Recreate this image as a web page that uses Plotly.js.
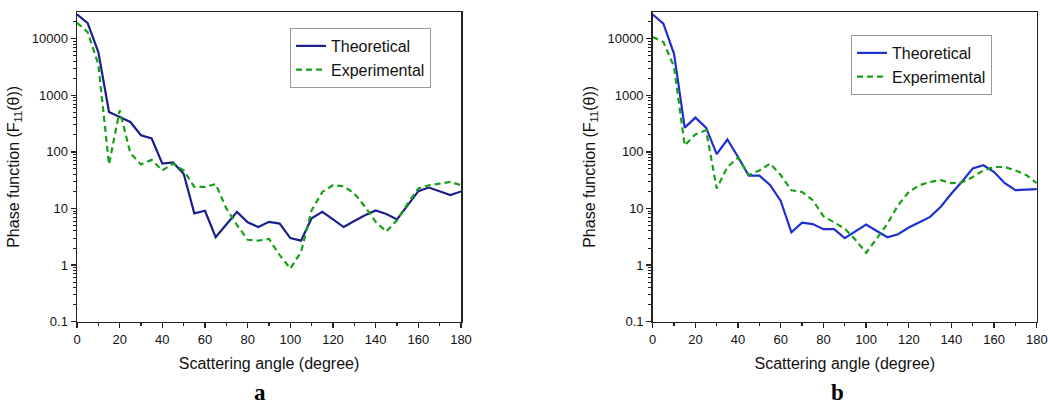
<!DOCTYPE html>
<html>
<head>
<meta charset="utf-8">
<script src="https://cdn.plot.ly/plotly-3.0.1.min.js"></script>
<style>html,body{margin:0;padding:0;background:#fff;}#chart{width:1048px;height:407px;}</style>
</head>
<body>
<div id="chart"></div>
<script>
const angles = [0,5,10,15,20,25,30,35,40,45,50,55,60,65,70,75,80,85,90,95,100,105,110,115,120,125,130,135,140,145,150,155,160,165,170,175,180];

const theoreticalA = [26700,18800,5800,506,413,337,196,172,62,65,41,8.2,9.1,3.1,5.2,8.7,5.7,4.7,5.8,5.4,3.0,2.7,6.7,8.7,6.4,4.7,6.0,7.6,9.2,8.0,6.4,11.4,20.2,23.4,20,17.2,20];
const experimentalA = [19000,13000,3500,60,540,95,60,72,47,62,47,24,24,27,10,5.1,2.8,2.7,2.9,1.5,0.87,1.7,9.3,19.6,25.7,24.7,18.4,10.7,5.8,3.9,6.2,12.2,22.5,25.7,27.5,29.5,25.7];

const theoreticalB = [26700,18300,5400,268,403,268,91,165,81,38,38,26,13.6,3.8,5.6,5.3,4.3,4.3,3.0,4.0,5.2,4.0,3.1,3.5,4.6,5.7,7.1,10.7,18.4,30,51,58,44,28,21,21.5,22];
const experimentalB = [10700,8700,3200,130,204,240,22.5,54,79,39,47,62,39,21,19.6,14,7.3,5.6,4.4,2.8,1.65,2.95,5.4,11.4,19.6,25.7,29.5,31.6,28,29,36,47,54,54,47,39,28];

const xTickVals = [0,20,40,60,80,100,120,140,160,180];
const yTickVals = [0.1,1,10,100,1000,10000];
const yTickText = ['0.1','1','10','100','1000','10000'];
const seriesNames = ['Theoretical','Experimental'];
const panelLabels = ['a','b'];
const xTitle = 'Scattering angle (degree)';
const yTitle = 'Phase function (F<sub>11</sub>(θ))';

const W = 1048, H = 407;
const minorY = [];
for (let d = -1; d < 4; d++) for (let k = 2; k <= 9; k++) minorY.push(k * Math.pow(10, d));
minorY.push(2e4);

const fam = 'Liberation Sans, Arial, sans-serif';
const font = {family: fam, size: 13, color: '#111'};

function xAxis(domain, anchor) {
  return {
    domain: domain, anchor: anchor, range: [0, 180],
    tickmode: 'array', tickvals: xTickVals,
    ticks: 'outside', ticklen: 5, tickwidth: 1.3, tickcolor: '#222',
    minor: {ticks: 'outside', ticklen: 3, tickwidth: 1.2, tickcolor: '#222', dtick: 10, tick0: 0, showgrid: false},
    showline: true, linecolor: '#222', linewidth: 1.5, mirror: true,
    showgrid: false, zeroline: false, ticklabeloverflow: 'allow',
    tickfont: {family: fam, size: 13, color: '#111'},
    title: {text: xTitle, font: {family: fam, size: 16, color: '#111'}, standoff: 12}
  };
}
function yAxis(domain, anchor) {
  return {
    domain: domain, anchor: anchor, type: 'log', range: [-1, 4.47],
    tickmode: 'array', tickvals: yTickVals, ticktext: yTickText,
    ticks: 'outside', ticklen: 5, tickwidth: 1.3, tickcolor: '#222',
    minor: {ticks: 'outside', ticklen: 3, tickwidth: 1, tickcolor: '#222', tickmode: 'array', tickvals: minorY, showgrid: false},
    showline: true, linecolor: '#222', linewidth: 1.5, mirror: true,
    showgrid: false, zeroline: false,
    tickfont: {family: fam, size: 13, color: '#111'},
    title: {text: yTitle, font: {family: fam, size: 16, color: '#111'}, standoff: 8}
  };
}

const dashStyle = '6px,4px';
const traces = [
  {x: angles, y: theoreticalA, xaxis: 'x', yaxis: 'y', type: 'scatter', mode: 'lines', name: seriesNames[0], legend: 'legend',
   line: {color: '#1a1f8c', width: 2.2}},
  {x: angles, y: experimentalA, xaxis: 'x', yaxis: 'y', type: 'scatter', mode: 'lines', name: seriesNames[1], legend: 'legend',
   line: {color: '#17a017', width: 2.2, dash: dashStyle}},
  {x: angles, y: theoreticalB, xaxis: 'x2', yaxis: 'y2', type: 'scatter', mode: 'lines', name: seriesNames[0], legend: 'legend2',
   line: {color: '#1f2fd2', width: 2.2}},
  {x: angles, y: experimentalB, xaxis: 'x2', yaxis: 'y2', type: 'scatter', mode: 'lines', name: seriesNames[1], legend: 'legend2',
   line: {color: '#17a017', width: 2.2, dash: dashStyle}}
];

const yDom = [1 - 321.7 / H, 1 - 12 / H];
const legendStyle = {
  bgcolor: '#fff', bordercolor: '#999', borderwidth: 1,
  font: {family: fam, size: 16, color: '#111'},
  xanchor: 'left', yanchor: 'top', tracegroupgap: 0, itemwidth: 30
};

const labelFont = {family: 'Liberation Serif, Times New Roman, serif', size: 23, color: '#000'};

const layout = {
  width: W, height: H,
  margin: {l: 0, r: 0, t: 0, b: 0},
  paper_bgcolor: '#fff', plot_bgcolor: '#fff',
  font: font,
  showlegend: true,
  xaxis: xAxis([77 / W, 461 / W], 'y'),
  yaxis: yAxis(yDom, 'x'),
  xaxis2: xAxis([652.7 / W, 1036.8 / W], 'y2'),
  yaxis2: yAxis(yDom, 'x2'),
  legend: Object.assign({x: 290 / W, y: 1 - 28 / H}, legendStyle),
  legend2: Object.assign({x: 851 / W, y: 1 - 35 / H}, legendStyle),
  annotations: [
    {text: '<b>' + panelLabels[0] + '</b>', xref: 'paper', yref: 'paper', x: 260 / W, y: 0,
     xanchor: 'center', yanchor: 'bottom', showarrow: false, font: labelFont},
    {text: '<b>' + panelLabels[1] + '</b>', xref: 'paper', yref: 'paper', x: 837 / W, y: 0,
     xanchor: 'center', yanchor: 'bottom', showarrow: false, font: labelFont}
  ]
};

Plotly.newPlot('chart', traces, layout, {displayModeBar: false, staticPlot: true});
</script>
</body>
</html>
